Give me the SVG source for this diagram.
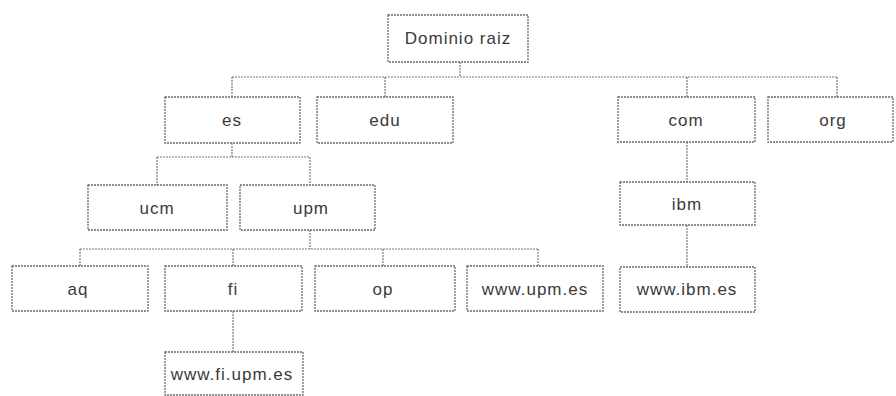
<svg xmlns="http://www.w3.org/2000/svg" width="896" height="396" viewBox="0 0 896 396">
<style>
.box{fill:#ffffff;stroke:#6a6a6a;stroke-width:1.3;stroke-dasharray:2 1}
.lbl{font-family:"Liberation Sans",Arial,sans-serif;font-size:17px;letter-spacing:1px;fill:#3a3a3a;text-anchor:middle;dominant-baseline:central}
.con{fill:none;stroke:#7a7a7a;stroke-width:1.2;stroke-dasharray:2 1}
</style>
<rect width="896" height="396" fill="#ffffff"/>
<g id="connectors">
<path class="con" d="M460 62V77M232 77H837M232 77V97M385 77V97M687 77V97M837 77V97"/>
<path class="con" d="M232 143V157M157 157H310M157 157V185M310 157V185"/>
<path class="con" d="M310 230V249M80 249H538M80 249V266M233 249V266M383 249V266M538 249V266"/>
<path class="con" d="M687 142V182M687 225V267"/>
<path class="con" d="M233 311V352"/>
</g>
<g id="n-root"><rect class="box" x="388" y="15" width="140" height="47"/><text class="lbl" x="458" y="38">Dominio raiz</text></g>
<g id="n-es"><rect class="box" x="165" y="97" width="135" height="46"/><text class="lbl" x="232" y="120">es</text></g>
<g id="n-edu"><rect class="box" x="317" y="97" width="136" height="46"/><text class="lbl" x="385" y="120">edu</text></g>
<g id="n-com"><rect class="box" x="618" y="97" width="137" height="45"/><text class="lbl" x="686" y="120">com</text></g>
<g id="n-org"><rect class="box" x="768" y="97" width="125" height="45"/><text class="lbl" x="833" y="120">org</text></g>
<g id="n-ucm"><rect class="box" x="88" y="185" width="139" height="45"/><text class="lbl" x="157" y="208">ucm</text></g>
<g id="n-upm"><rect class="box" x="240" y="185" width="135" height="45"/><text class="lbl" x="311" y="208">upm</text></g>
<g id="n-ibm"><rect class="box" x="620" y="182" width="135" height="43"/><text class="lbl" x="687" y="204">ibm</text></g>
<g id="n-aq"><rect class="box" x="12" y="266" width="136" height="45"/><text class="lbl" x="78" y="289">aq</text></g>
<g id="n-fi"><rect class="box" x="165" y="266" width="137" height="45"/><text class="lbl" x="233" y="289">fi</text></g>
<g id="n-op"><rect class="box" x="315" y="266" width="140" height="45"/><text class="lbl" x="383" y="289">op</text></g>
<g id="n-wwwupm"><rect class="box" x="467" y="266" width="136" height="45"/><text class="lbl" x="535" y="289">www.upm.es</text></g>
<g id="n-wwwibm"><rect class="box" x="620" y="267" width="135" height="45"/><text class="lbl" x="687" y="289">www.ibm.es</text></g>
<g id="n-wwwfi"><rect class="box" x="165" y="352" width="138" height="43"/><text class="lbl" x="232" y="374">www.fi.upm.es</text></g>
</svg>
